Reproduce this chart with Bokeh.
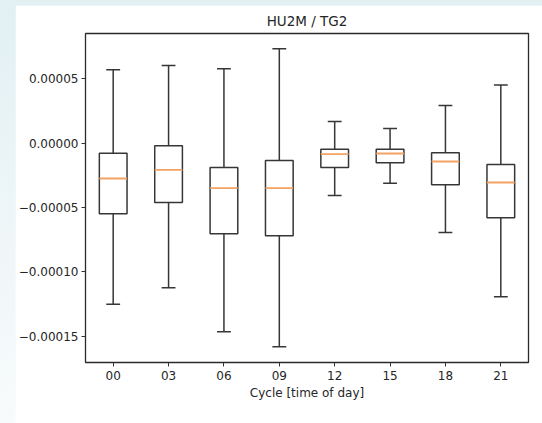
from bokeh.plotting import figure
from bokeh.layouts import column
from bokeh.models import FixedTicker, CustomJSTickFormatter, Range1d
from bokeh.embed import file_html
from bokeh.resources import INLINE

cycles = ["00", "03", "06", "09", "12", "15", "18", "21"]
whisker_hi = [5.70e-5, 6.03e-5, 5.78e-5, 7.33e-5, 1.68e-5, 1.14e-5, 2.93e-5, 4.53e-5]
q3 = [-7.8e-6, -2.0e-6, -1.89e-5, -1.34e-5, -4.7e-6, -4.7e-6, -7.5e-6, -1.65e-5]
median = [-2.74e-5, -2.07e-5, -3.49e-5, -3.49e-5, -8.5e-6, -8.0e-6, -1.42e-5, -3.05e-5]
q1 = [-5.48e-5, -4.60e-5, -7.04e-5, -7.19e-5, -1.89e-5, -1.52e-5, -3.23e-5, -5.79e-5]
whisker_lo = [-1.25e-4, -1.123e-4, -1.464e-4, -1.58e-4, -4.06e-5, -3.11e-5, -6.93e-5, -1.193e-4]
y_ticks = [-0.00015, -0.0001, -0.00005, 0.0, 0.00005]

FONT = "DejaVu Sans"
TXT = "#262626"
LINE = "#363636"
LW = 1.5

pos = [i + 1 for i in range(len(cycles))]
box_w = 0.5
cap_w = 0.25

p = figure(width=527, height=418, output_backend="svg", toolbar_location=None,
           x_range=Range1d(0.5, len(cycles) + 0.5), y_range=Range1d(-1.703e-4, 8.52e-5),
           title="HU2M / TG2")
p.margin = (5, 0, 0, 15)
p.min_border_left = 68
p.min_border_right = 14
p.min_border_top = 28
p.min_border_bottom = 61
p.background_fill_color = "white"
p.border_fill_color = "white"
p.outline_line_color = "#2a2a2a"
p.outline_line_width = 1.3
p.xgrid.visible = False
p.ygrid.visible = False

p.title.text_font = FONT
p.title.text_font_size = "13.5px"
p.title.text_font_style = "normal"
p.title.text_color = TXT
p.title.align = "center"

# whiskers
p.segment(x0=pos, y0=q3, x1=pos, y1=whisker_hi, line_color=LINE, line_width=LW)
p.segment(x0=pos, y0=q1, x1=pos, y1=whisker_lo, line_color=LINE, line_width=LW)
# caps
p.segment(x0=[x - cap_w / 2 for x in pos], y0=whisker_hi, x1=[x + cap_w / 2 for x in pos], y1=whisker_hi,
          line_color=LINE, line_width=LW)
p.segment(x0=[x - cap_w / 2 for x in pos], y0=whisker_lo, x1=[x + cap_w / 2 for x in pos], y1=whisker_lo,
          line_color=LINE, line_width=LW)
# boxes
p.vbar(x=pos, width=box_w, bottom=q1, top=q3, fill_color="white", line_color=LINE, line_width=LW)
# medians
p.segment(x0=[x - box_w / 2 for x in pos], y0=median, x1=[x + box_w / 2 for x in pos], y1=median,
          line_color="#f3a262", line_width=1.8)

for ax in (p.xaxis[0], p.yaxis[0]):
    ax.major_label_text_font = FONT
    ax.major_label_text_font_size = "12px"
    ax.major_label_text_color = TXT
    ax.axis_line_color = None
    ax.major_tick_in = 0
    ax.major_tick_out = 4
    ax.major_tick_line_color = "#333333"
    ax.minor_tick_line_color = None
    ax.axis_label_text_font = FONT
    ax.axis_label_text_font_size = "12px"
    ax.axis_label_text_font_style = "normal"
    ax.axis_label_text_color = TXT

p.xaxis.ticker = FixedTicker(ticks=pos)
p.xaxis.major_label_overrides = {x: c for x, c in zip(pos, cycles)}
p.xaxis.major_label_standoff = 4
p.xaxis.axis_label = "Cycle [time of day]"
p.xaxis.axis_label_standoff = 3

p.yaxis.ticker = FixedTicker(ticks=y_ticks)
p.yaxis.formatter = CustomJSTickFormatter(code="""
    const v = Math.abs(tick) < 1e-12 ? 0 : tick;
    return (v < 0 ? '\u2212' : '') + Math.abs(v).toFixed(5);
""")
p.yaxis.major_label_standoff = 3

layout = column(p, styles={"background": "linear-gradient(to bottom, #e2f0f3, #f8fbfc)"})
open("out.html", "w").write(file_html(layout, INLINE))
